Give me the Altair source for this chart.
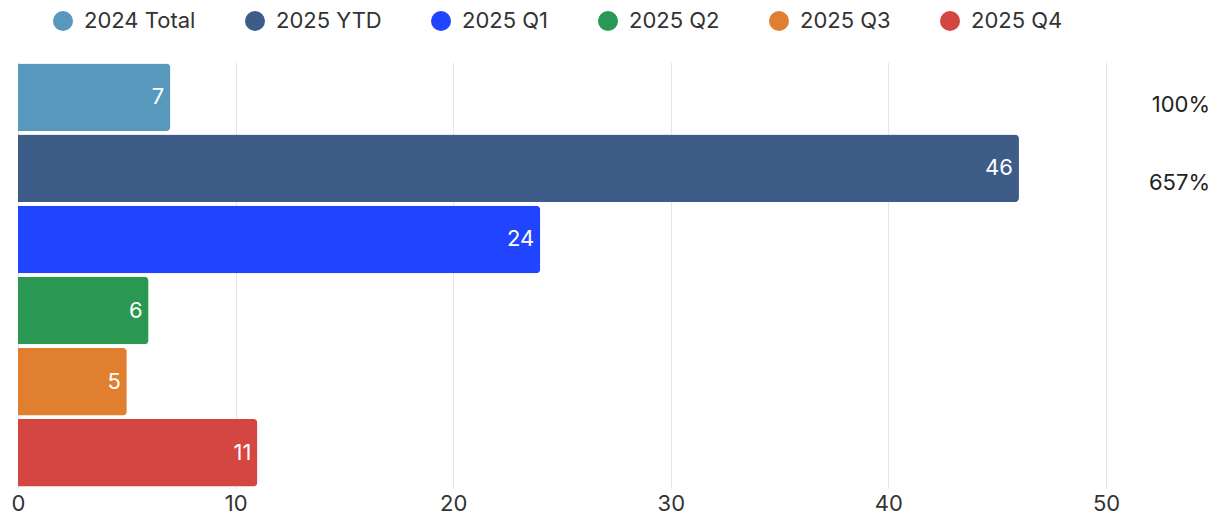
import altair as alt
import pandas as pd

categories = ["2024 Total", "2025 YTD", "2025 Q1", "2025 Q2", "2025 Q3", "2025 Q4"]
values = [7, 46, 24, 6, 5, 11]
colors = ["#5898bd", "#3d5c88", "#2145ff", "#2a9853", "#e07f2f", "#d44642"]
pct_categories = ["2024 Total", "2025 YTD"]
pct_labels = ["100%", "657%"]
pct_dy = [8, 15]

df = pd.DataFrame({"cat": categories, "val": values})

FONT = "Inter"

y_enc = alt.Y("cat:N", sort=categories, axis=None,
              scale=alt.Scale(paddingInner=0.05, paddingOuter=0.02))

bars = alt.Chart(df).mark_bar(cornerRadiusTopRight=4, cornerRadiusBottomRight=4).encode(
    x=alt.X("val:Q", scale=alt.Scale(domain=[0, 50]),
            axis=alt.Axis(values=[0, 10, 20, 30, 40, 50], title=None, domain=False, ticks=False,
                          grid=True, gridColor="#e6e6e6", labelFontSize=22, labelColor="#333333",
                          labelFont=FONT, labelPadding=5, labelFlush=False)),
    y=y_enc,
    color=alt.Color("cat:N", sort=categories,
                    scale=alt.Scale(domain=categories, range=colors),
                    legend=alt.Legend(title=None, orient="none", direction="horizontal",
                                      legendX=34, legendY=-52, symbolType="circle", symbolSize=400,
                                      symbolStrokeWidth=0, symbolOpacity=1, labelFontSize=22,
                                      labelFont=FONT, labelColor="#333333", labelOffset=10,
                                      columnPadding=48)),
)

labels = alt.Chart(df).mark_text(align="right", baseline="middle", dx=-6, color="white",
                                 fontSize=22, font=FONT).encode(
    x="val:Q", y=y_enc, text="val:Q")

layers = [bars, labels]
for c, t, d in zip(pct_categories, pct_labels, pct_dy):
    pdf = pd.DataFrame({"cat": [c], "lab": [t]})
    layers.append(
        alt.Chart(pdf).mark_text(align="right", baseline="middle", dy=d, fontSize=22,
                                 font=FONT, color="#222222").encode(
            x=alt.value(1192), y=y_enc, text="lab:N")
    )

chart = alt.layer(*layers).properties(
    width=1088, height=426,
    autosize=alt.AutoSizeParams(type="none"),
    padding={"left": 10, "top": 54, "right": 106, "bottom": 30},
).configure_view(stroke=None)

chart.save("out.html", embed_options={"renderer": "svg", "actions": False})
